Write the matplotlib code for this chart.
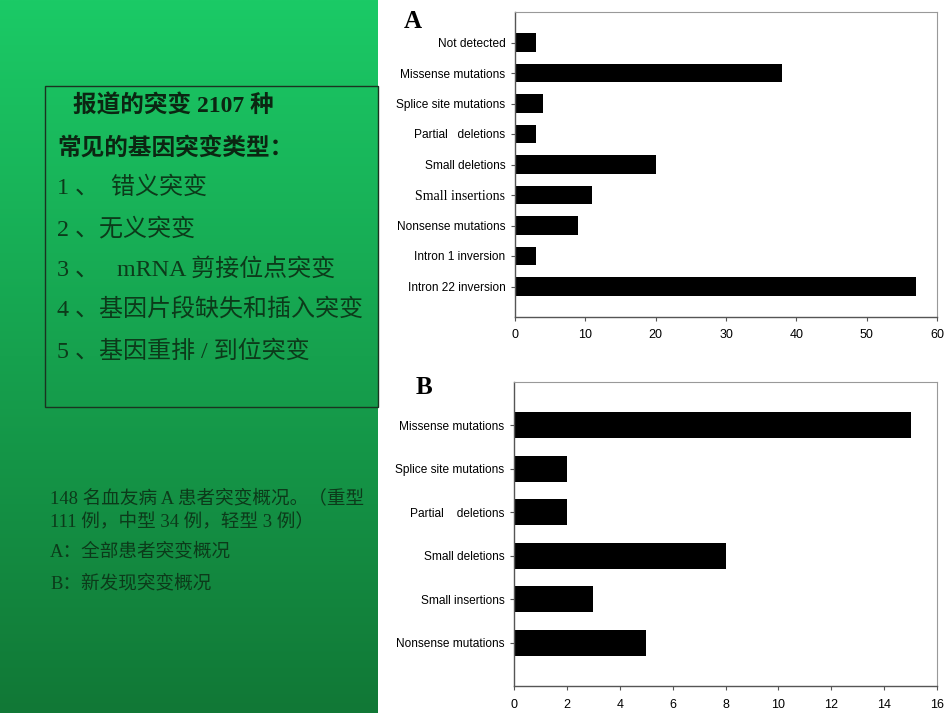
import numpy as np
import matplotlib
matplotlib.use("Agg")
import matplotlib.pyplot as plt
from matplotlib.patches import Rectangle

# Panel A: all patients
cats_a = ["Not detected", "Missense mutations", "Splice site mutations",
          "Partial   deletions", "Small deletions", "Small insertions",
          "Nonsense mutations", "Intron 1 inversion", "Intron 22 inversion"]
vals_a = [3, 38, 4, 3, 20, 11, 9, 3, 57]
xticks_a = [0, 10, 20, 30, 40, 50, 60]

# Panel B: newly found mutations
cats_b = ["Missense mutations", "Splice site mutations", "Partial    deletions",
          "Small deletions", "Small insertions", "Nonsense mutations"]
vals_b = [15, 2, 2, 8, 3, 5]
xticks_b = [0, 2, 4, 6, 8, 10, 12, 14, 16]

box_lines = ["1 、  错义突变", "2 、无义突变", "3 、   mRNA 剪接位点突变",
             "4 、基因片段缺失和插入突变", "5 、基因重排 / 到位突变"]
note_lines = ["148 名血友病 A 患者突变概况。（重型",
              "111 例，中型 34 例，轻型 3 例）",
              "A：全部患者突变概况",
              "B：新发现突变概况"]

W, H = 950, 713
fig = plt.figure(figsize=(9.5, 7.13), dpi=100)
fig.patch.set_facecolor("white")

CJK = ["Liberation Serif", "Noto Sans CJK SC"]


def fx(px):
    return px / W


def fy(py):
    return 1 - py / H


# green gradient panel on the left
bg = fig.add_axes([0, 0, fx(378), 1])
grad = np.linspace(0, 1, 256)[:, None]
top = np.array([0x1b, 0xca, 0x66]) / 255
bot = np.array([0x11, 0x78, 0x36]) / 255
img = top[None, None, :] * (1 - grad[:, :, None]) + bot[None, None, :] * grad[:, :, None]
bg.imshow(img, aspect="auto", extent=[0, 1, 0, 1])
bg.set_axis_off()

# text box
fig.patches.append(Rectangle((fx(45), fy(407)), fx(378) - fx(45), fy(86) - fy(407),
                             transform=fig.transFigure, fill=False,
                             edgecolor="#1a3320", linewidth=1.0))

fig.text(fx(73), fy(106), "报道的突变 2107 种", family=CJK, fontsize=17,
         fontweight="bold", color="#0b2612", va="center")
fig.text(fx(57), fy(148), "常见的基因突变类型：", family=CJK, fontsize=17,
         fontweight="bold", color="#0b2612", va="center")
for i, line in enumerate(box_lines):
    fig.text(fx(57), fy(188 + i * 40.8), line, family=CJK, fontsize=17.3,
             color="#0c3a1a", va="center")

note_y = [498, 521, 552, 584]
for y, line in zip(note_y, note_lines):
    fig.text(fx(50), fy(y), line, family=CJK, fontsize=13.4,
             color="#0c3a1a", va="center")


def bar_panel(rect, cats, vals, xticks, letter, letter_xy):
    ax = fig.add_axes(rect)
    pos = np.arange(len(cats))
    ax.barh(pos, vals, height=0.6, color="black")
    ax.set_ylim(len(cats), -1)
    ax.set_xlim(xticks[0], xticks[-1])
    ax.set_xticks(xticks)
    ax.set_yticks(pos)
    ax.set_yticklabels(cats, family="Liberation Sans", fontsize=8.6)
    for lab in ax.get_xticklabels():
        lab.set_family("Liberation Sans")
        lab.set_fontsize(9)
    ax.tick_params(axis="both", direction="out", length=3, width=0.8,
                   color="#555555", pad=4)
    ax.tick_params(axis="x", pad=6)
    for side in ("left", "bottom"):
        ax.spines[side].set_color("#555555")
        ax.spines[side].set_linewidth(1.0)
    for side in ("top", "right"):
        ax.spines[side].set_color("#999999")
        ax.spines[side].set_linewidth(0.8)
    fig.text(fx(letter_xy[0]), fy(letter_xy[1]), letter, family="Liberation Serif",
             fontsize=18, fontweight="bold", va="center", ha="left")
    return ax


ax_a = bar_panel([fx(515), fy(317), fx(937) - fx(515), fy(12) - fy(317)],
                 cats_a, vals_a, xticks_a, "A", (404, 22))
# the original figure uses a serif face for this one label
ax_a.get_yticklabels()[5].set_family("Liberation Serif")
ax_a.get_yticklabels()[5].set_fontsize(10)

bar_panel([fx(514), fy(686), fx(937) - fx(514), fy(382) - fy(686)],
          cats_b, vals_b, xticks_b, "B", (416, 388))

fig.savefig("out.png", dpi=100)
